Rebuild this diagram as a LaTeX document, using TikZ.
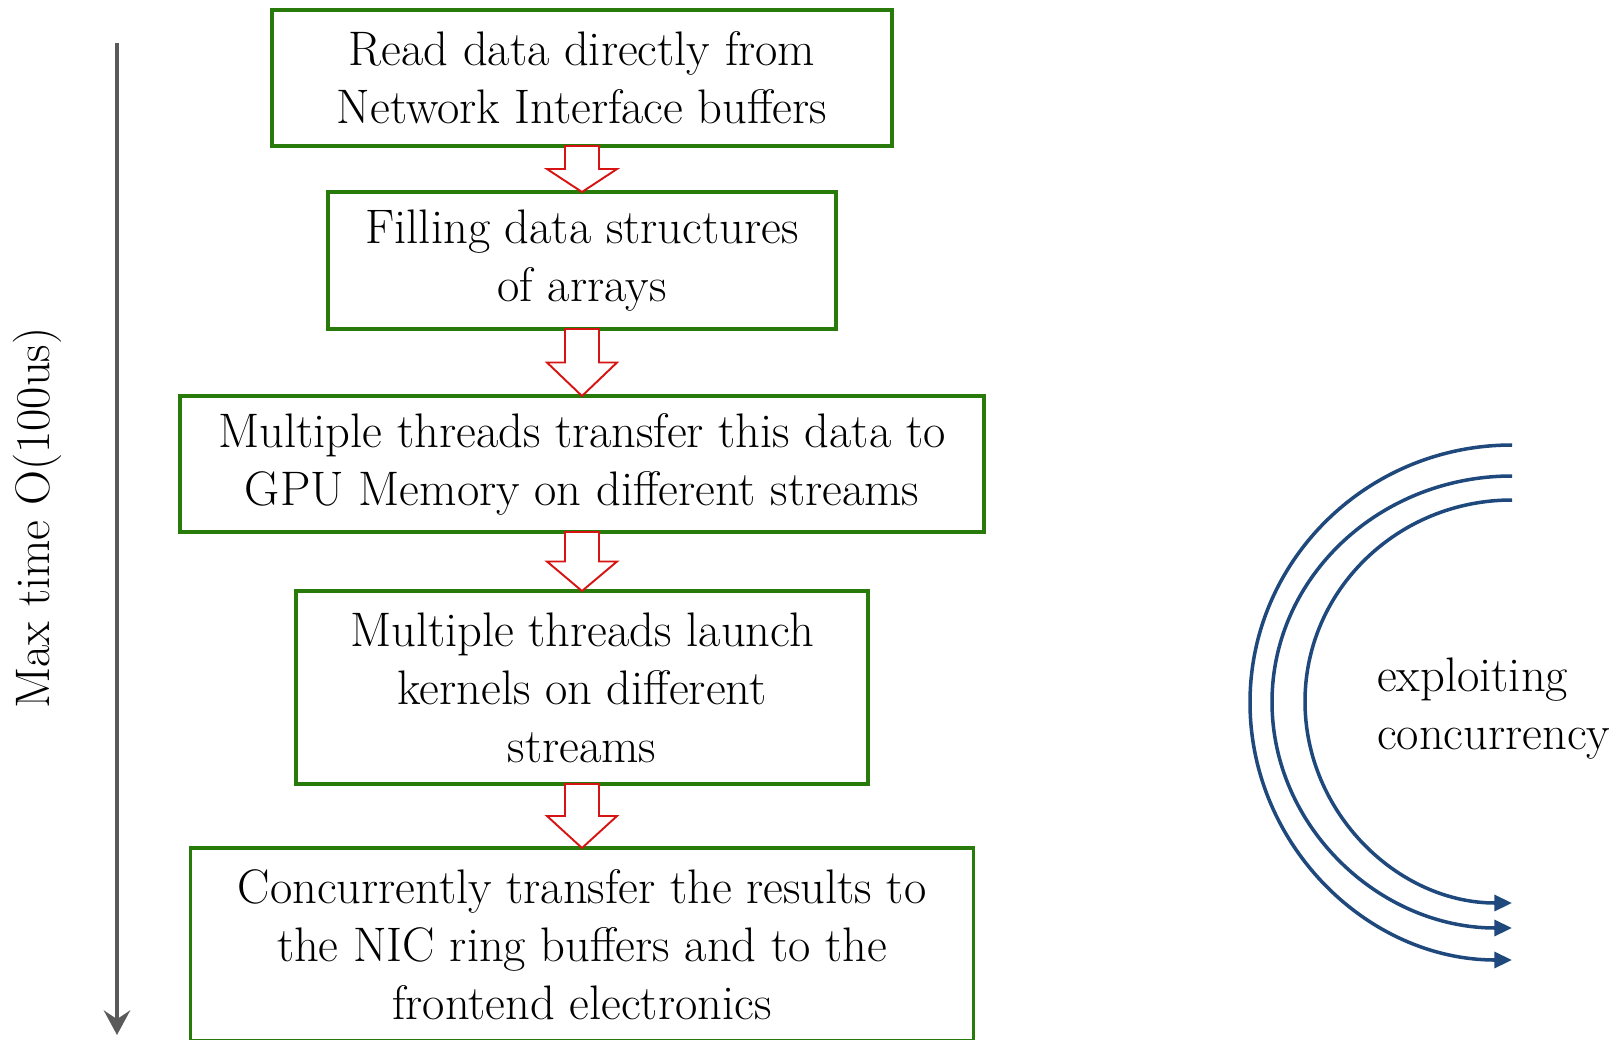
\documentclass[tikz,border=0pt]{standalone}
\usepackage{fontspec}
\usepackage{xcolor}
\usepackage{tikz}
\usetikzlibrary{arrows.meta, positioning, calc}
\definecolor{boxgreen}{RGB}{40,122,10}
\definecolor{arrowred}{RGB}{215,20,20}
\definecolor{arcblue}{RGB}{31,73,125}
\definecolor{timegray}{RGB}{90,90,90}
\tikzstyle{stepbox} = [rectangle, draw=boxgreen, line width=2pt, fill=white, align=center, inner sep=0pt, outer sep=0pt, font=\fontsize{27.6}{33}\selectfont]
\tikzstyle{hollow} = [draw=arrowred, line width=1.1pt, fill=white, line join=miter]
\tikzstyle{timearrow} = [draw=timegray, line width=2.3pt, -{Stealth[length=14pt, width=15pt, inset=5pt]}]
\tikzstyle{streamarc} = [draw=arcblue, line width=2pt, -{Triangle[length=10pt, width=9pt]}]
\tikzstyle{label} = [font=\fontsize{27.6}{33}\selectfont]

\begin{document}
\begin{tikzpicture}
    \useasboundingbox (0,0) rectangle (32.44,-20.78);

    \node[stepbox, minimum width=12.4cm, minimum height=2.72cm] (read) at (11.64,-1.56) {Read data directly from\\Network Interface buffers};
    \node[stepbox, minimum width=10.16cm, minimum height=2.74cm, below=0.92cm of read] (fill) {Filling data structures\\of arrays};
    \node[stepbox, minimum width=16.08cm, minimum height=2.72cm, below=1.34cm of fill] (copy) {Multiple threads transfer this data to\\GPU Memory on different streams};
    \node[stepbox, minimum width=11.44cm, minimum height=3.86cm, below=1.18cm of copy] (launch) {Multiple threads launch\\kernels on different\\streams};
    \node[stepbox, minimum width=15.66cm, minimum height=3.86cm, below=1.28cm of launch] (result) {Concurrently transfer the results to\\the NIC ring buffers and to the\\frontend electronics};

    % hollow arrows between the steps
    \foreach \a/\b in {read/fill, fill/copy, copy/launch, launch/result}
        \draw[hollow] let \p1=(\a.south), \p2=(\b.north) in
            (\x1-0.34cm,\y1) -- (\x1-0.34cm,{(\y1+\y2)/2}) -- (\x1-0.7cm,{(\y1+\y2)/2}) -- (\p2)
            -- (\x1+0.7cm,{(\y1+\y2)/2}) -- (\x1+0.34cm,{(\y1+\y2)/2}) -- (\x1+0.34cm,\y1) -- cycle;

    % time axis
    \coordinate (ttop) at (2.34,-0.86);
    \coordinate (tbot) at (2.34,-20.70);
    \draw[timearrow] (ttop) -- (tbot);
    \node[label, rotate=90] (tlabel) at (0.74,-10.36) {Max time O(100us)};

    % concurrency arcs
    \draw[streamarc] (30.24,-8.90) arc[start angle=90, end angle=270, x radius=5.24, y radius=5.15];
    \draw[streamarc] (30.24,-9.52) arc[start angle=90, end angle=270, x radius=4.80, y radius=4.52];
    \draw[streamarc] (30.24,-10.00) arc[start angle=90, end angle=270, x radius=4.14, y radius=4.03];
    \node[label, anchor=west, align=left] (conc) at (27.42,-14.18) {exploiting\\concurrency};
\end{tikzpicture}
\end{document}
